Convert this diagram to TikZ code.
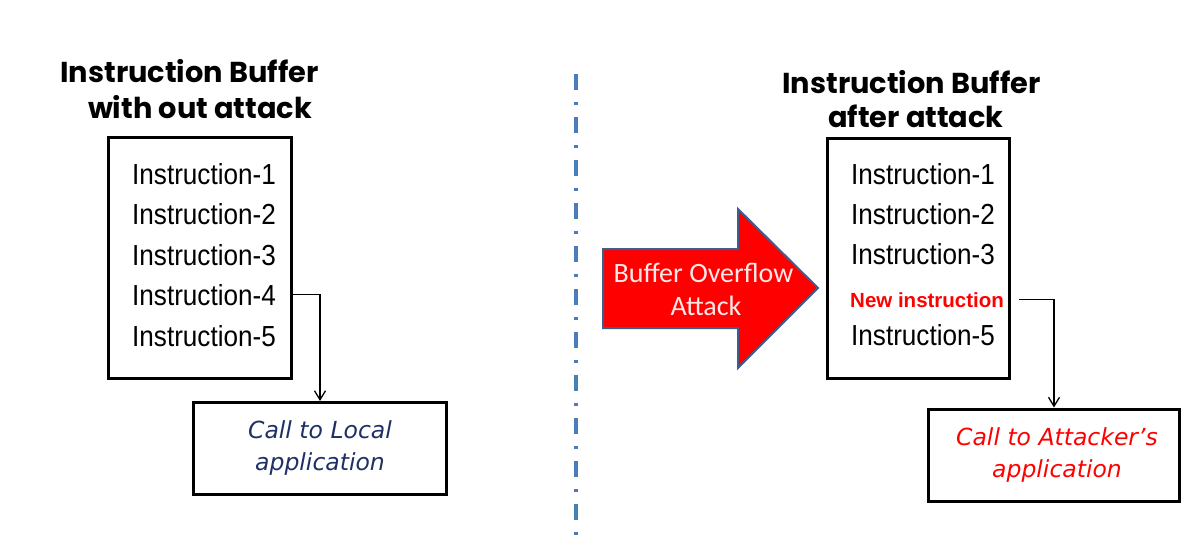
\documentclass[tikz,border=0pt]{standalone}
\usepackage{fontspec}
\usetikzlibrary{arrows.meta}
\setmainfont{Liberation Sans}
\newfontfamily\instrfont{Liberation Sans}[FakeStretch=0.9]
\newfontfamily\titlefont{Poppins}
\newfontfamily\calfont{Carlito}
\newfontfamily\handfont{DejaVu Sans}
\definecolor{navy}{HTML}{1F3064}
\definecolor{arrowred}{HTML}{FF0000}
\definecolor{arrowedge}{HTML}{3F5E8C}
\definecolor{dashblue}{HTML}{4A7EBB}
\definecolor{paletext}{HTML}{FFE8E8}
\tikzset{
  x=1pt, y=-1pt,
  bufbox/.style={draw=black, line width=3pt, inner sep=0pt},
  callbox/.style={draw=black, line width=3pt, inner sep=0pt, minimum width=251pt, minimum height=92pt},
  instr/.style={anchor=base west, inner sep=0pt, font=\instrfont\fontsize{29}{29}\selectfont},
  title/.style={anchor=base, inner sep=0pt, font=\titlefont\bfseries\fontsize{28.8}{28.8}\selectfont},
  calltext/.style={anchor=base, inner sep=0pt, font=\handfont\itshape\fontsize{23.5}{23.5}\selectfont},
  conn/.style={draw=black, line width=1.3pt, -{Straight Barb[length=9pt,width=11pt,line width=1.3pt]}},
}
\begin{document}
\begin{tikzpicture}
\useasboundingbox (0,0) rectangle (1184,535);
\fill[white] (0,0) rectangle (1184,535);

% divider
\draw[dashblue, line width=3.3pt, dash pattern=on 16pt off 12pt on 3pt off 12pt] (576,74) -- (576,535);

% left side
\node[title] (lt1) at (189.5,82) {Instruction Buffer};
\node[title] (lt2) at (200,118) {with out attack};
\node[bufbox, minimum width=183pt, minimum height=241pt] (lbox) at (200,258) {};
\node[instr] (li1) at (132,184) {Instruction-1};
\node[instr] (li2) at (132,224.5) {Instruction-2};
\node[instr] (li3) at (132,265) {Instruction-3};
\node[instr] (li4) at (132,305) {Instruction-4};
\node[instr] (li5) at (132,346) {Instruction-5};
\node[callbox, minimum width=253pt] (lcall) at (320,448.5) {};
\node[calltext, text=navy] (lc1) at (320,438) {Call to Local};
\node[calltext, text=navy] (lc2) at (320,470) {application};
\draw[conn] (lbox.east |- li4.center) -| (lcall.north);

% block arrow
\draw[fill=arrowred, draw=arrowedge, line width=2pt, line join=miter]
  (603,249) -- (738,249) -- (738,209) -- (818,288) -- (738,368) -- (738,328) -- (603,328) -- cycle;
\node[anchor=base, inner sep=0pt, text=paletext, font=\calfont\fontsize{28}{28}\selectfont] (a1) at (703.5,282) {Buffer Overflow};
\node[anchor=base, inner sep=0pt, text=paletext, font=\calfont\fontsize{28}{28}\selectfont] (a2) at (706,315) {Attack};

% right side
\node[title] (rt1) at (911.5,93) {Instruction Buffer};
\node[title] (rt2) at (916,128) {after attack};
\node[bufbox, minimum width=182pt, minimum height=240pt] (rbox) at (918.5,258.5) {};
\node[instr] (ri1) at (851,184) {Instruction-1};
\node[instr] (ri2) at (851,224) {Instruction-2};
\node[instr] (ri3) at (851,264) {Instruction-3};
\node[anchor=base west, inner sep=0pt, text=red, font=\bfseries\fontsize{20.5}{20.5}\selectfont] (rnew) at (850,307) {New instruction};
\node[instr] (ri5) at (851,345) {Instruction-5};
\node[callbox] (rcall) at (1054,455) {};
\node[calltext, text=red] (rc1) at (1057,445) {Call to Attacker’s};
\node[calltext, text=red] (rc2) at (1057,477) {application};
\draw[conn] ([xshift=8pt]rbox.east |- rnew.center) -| (rcall.north);
\end{tikzpicture}
\end{document}
